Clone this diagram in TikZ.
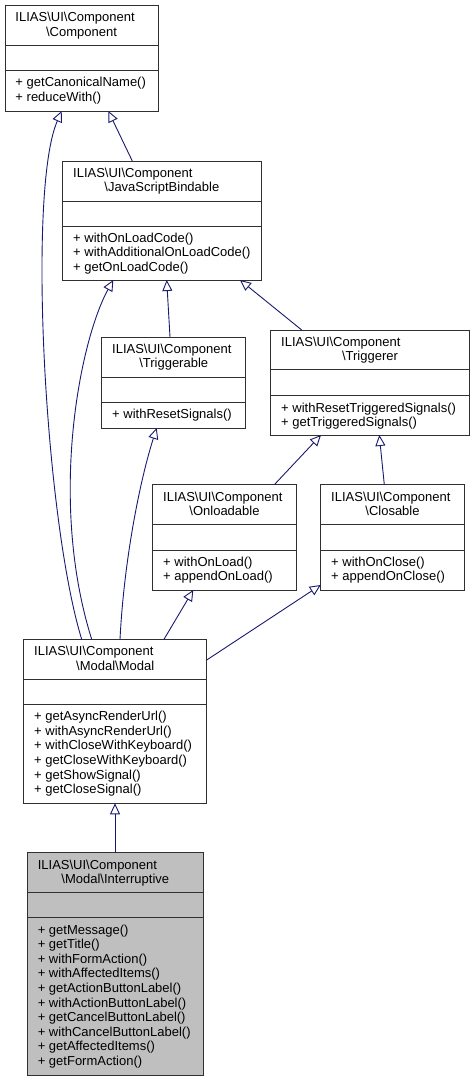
\documentclass[tikz,border=0pt]{standalone}
\usepackage{fontspec}
\setmainfont{Liberation Sans}
\usetikzlibrary{arrows.meta,calc}
\definecolor{edgeblue}{HTML}{191970}
\definecolor{boxline}{HTML}{303030}
\definecolor{hlfill}{HTML}{BFBFBF}
\newcommand\bsl{\textbackslash{}}
\tikzset{
  classbox/.style={draw=boxline, line width=1pt, rectangle, inner sep=0pt, outer sep=0pt},
  sepline/.style={draw=boxline, line width=1pt},
  txt/.style={inner sep=0pt, outer sep=0pt, font=\fontsize{13}{14.6}\selectfont},
  inh/.style={draw=edgeblue, line width=0.9pt, -{Triangle[open, length=11pt, width=10pt]}},
}
% #1 fill, #2 name, #3 L, #4 T, #5 R, #6 S1, #7 S2, #8 B, #9 second title line
\newcommand\umlclass[9][white]{%
  \node[classbox, fill=#1, minimum width={#5-#3}, minimum height={#8-#4}] (#2) at ({(#3+#5)/2},{(#4+#8)/2}) {};
  \draw[sepline] (#2.west |- 0,#6) -- (#2.east |- 0,#6);
  \draw[sepline] (#2.west |- 0,#7) -- (#2.east |- 0,#7);
  \node[txt, anchor=base west] (#2-t1) at ({#3+10.5},{#4+16.3}) {ILIAS\bsl UI\bsl Component};
  \node[txt, anchor=base] (#2-t2) at ({(#3+#5)/2},{#4+30.9}) {#9};
}
% #1 name, #2 L, #3 S2, #4 list
\newcommand\umlmethods[4]{%
  \foreach \m [count=\i] in {#4} {
    \node[txt, anchor=base west] (#1-m\i) at ({#2+10.5},{#3+16.3+(\i-1)*14.6}) {+ \m};
  }
}
\begin{document}
\begin{tikzpicture}[x=1pt, y=-1pt]
\useasboundingbox (0,0) rectangle (475,1081);

\umlclass{comp}{5}{5.5}{158}{45.5}{70.5}{111}{\bsl Component}
\umlmethods{comp}{5}{70.5}{getCanonicalName(), reduceWith()}

\umlclass{js}{62.7}{161}{261}{201}{226}{280}{\bsl JavaScriptBindable}
\umlmethods{js}{62.7}{226}{withOnLoadCode(), withAdditionalOnLoadCode(), getOnLoadCode()}

\umlclass{trigable}{101.7}{337}{245.7}{377.3}{402.3}{428}{\bsl Triggerable}
\umlmethods{trigable}{101.7}{402.3}{withResetSignals()}

\umlclass{trigger}{270.7}{330}{469.3}{369.3}{395.7}{435}{\bsl Triggerer}
\umlmethods{trigger}{270.7}{395.7}{withResetTriggeredSignals(), getTriggeredSignals()}

\umlclass{onload}{152.7}{484.7}{296.3}{524.7}{550}{590}{\bsl Onloadable}
\umlmethods{onload}{152.7}{550}{withOnLoad(), appendOnLoad()}

\umlclass{closable}{320.7}{484.7}{464.3}{524.7}{550}{590}{\bsl Closable}
\umlmethods{closable}{320.7}{550}{withOnClose(), appendOnClose()}

\umlclass{modal}{23.7}{639.3}{206.7}{679.3}{704.3}{803.3}{\bsl Modal\bsl Modal}
\umlmethods{modal}{23.7}{704.3}{getAsyncRenderUrl(), withAsyncRenderUrl(), withCloseWithKeyboard(), getCloseWithKeyboard(), getShowSignal(), getCloseSignal()}

\umlclass[hlfill]{inter}{27.3}{852.7}{203.3}{892.7}{917.7}{1075}{\bsl Modal\bsl Interruptive}
\umlmethods{inter}{27.3}{917.7}{getMessage(), getTitle(), withFormAction(), withAffectedItems(), getActionButtonLabel(), withActionButtonLabel(), getCancelButtonLabel(), withCancelButtonLabel(), getAffectedItems(), getFormAction()}

% inheritance connectors
\draw[inh] ($(modal.north west)+(58,0)$) .. controls (45,520) and (27,190) .. ($(comp.south west)+(56.7,0)$);
\draw[inh] ($(js.north west)+(69.6,0)$) -- ($(comp.south west)+(103.3,0)$);
\draw[inh] ($(modal.north west)+(68,0)$) .. controls (48,500) and (80,340) .. ($(js.south west)+(50.6,0)$);
\draw[inh] ($(trigable.north west)+(68.3,0)$) -- ($(js.south west)+(104,0)$);
\draw[inh] ($(trigger.north west)+(31,0)$) -- ($(js.south west)+(177.3,0)$);
\draw[inh] ($(modal.north west)+(96.3,0)$) .. controls (124,560) and (140,480) .. ($(trigable.south west)+(55,0)$);
\draw[inh] ($(onload.north west)+(121.6,0)$) -- ($(trigger.south west)+(50.3,0)$);
\draw[inh] ($(closable.north west)+(63.6,0)$) -- ($(trigger.south west)+(108.6,0)$);
\draw[inh] ($(modal.north west)+(140.3,0)$) -- ($(onload.south west)+(40.6,0)$);
\draw[inh] ($(modal.north east)+(0,20.7)$) -- ($(closable.south west)+(0,-5)$);
\draw[inh] ($(inter.north west)+(87.7,0)$) -- ($(modal.south west)+(91.3,0)$);
\end{tikzpicture}
\end{document}
